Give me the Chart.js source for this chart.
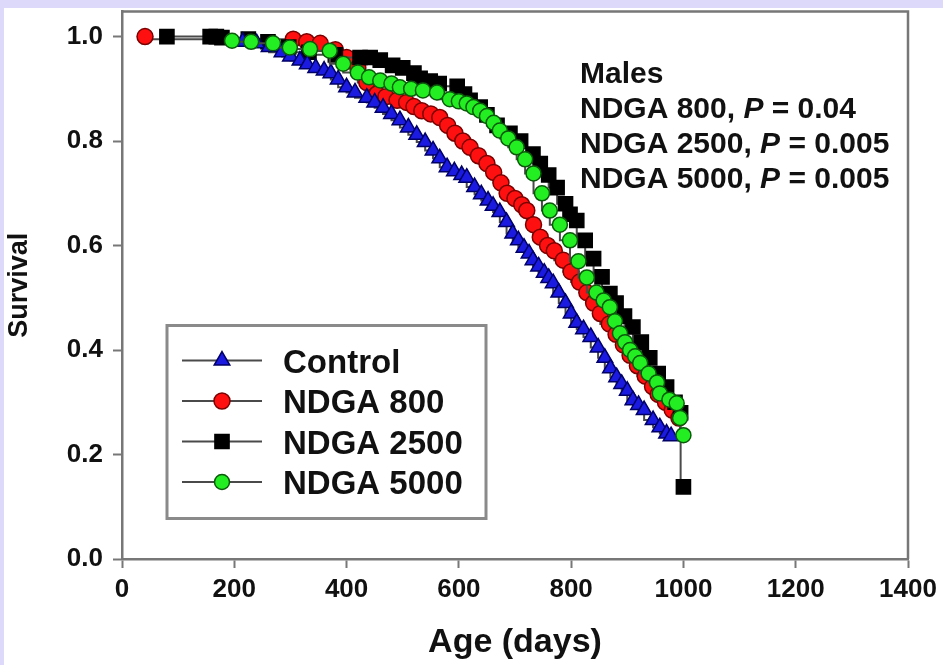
<!DOCTYPE html>
<html>
<head>
<meta charset="utf-8">
<title>Survival – Males</title>
<script src="https://cdn.jsdelivr.net/npm/chart.js@4.4.1/dist/chart.umd.min.js"></script>
<style>
  html, body { margin: 0; padding: 0; }
  body { width: 943px; height: 665px; background: #dcd9fb; position: relative; overflow: hidden; }
  #panel { position: absolute; left: 4px; top: 8px; right: 0; bottom: 0; background: #ffffff; }
  #survivalChart { position: absolute; left: 0; top: 0; }
</style>
</head>
<body>
<div id="panel"></div>
<canvas id="survivalChart" width="943" height="665"></canvas>
<script>
// Kaplan-Meier survival, males (age in days)
const seriesNames = ["Control", "NDGA 800", "NDGA 2500", "NDGA 5000"];

const controlDays = [215, 240, 262, 285, 300, 317, 330, 345, 360, 372, 385, 400, 415, 436, 450, 465, 480, 495, 510, 525, 540, 554, 566, 579, 592, 605, 614, 628, 640, 652, 661, 673, 685, 696, 706, 716, 725, 732, 742, 752, 760, 768, 778, 790, 800, 810, 822, 835, 848, 860, 870, 881, 890, 900, 910, 920, 930, 946, 958, 970, 978];
const controlSurv = [0.99, 0.987, 0.98, 0.97, 0.962, 0.954, 0.947, 0.94, 0.935, 0.93, 0.918, 0.903, 0.893, 0.883, 0.874, 0.864, 0.852, 0.84, 0.826, 0.812, 0.798, 0.782, 0.767, 0.75, 0.742, 0.735, 0.73, 0.712, 0.698, 0.686, 0.676, 0.664, 0.645, 0.623, 0.61, 0.596, 0.585, 0.572, 0.56, 0.548, 0.538, 0.528, 0.51, 0.49, 0.47, 0.452, 0.44, 0.425, 0.405, 0.385, 0.365, 0.348, 0.335, 0.322, 0.304, 0.295, 0.285, 0.266, 0.252, 0.24, 0.235];

const ndga800Days = [41, 305, 329, 353, 380, 400, 420, 436, 454, 470, 490, 507, 520, 534, 550, 566, 580, 593, 607, 620, 635, 650, 662, 675, 686, 700, 712, 721, 733, 745, 758, 770, 786, 800, 815, 828, 840, 852, 868, 880, 893, 905, 918, 932, 945, 955, 968, 980, 992];
const ndga800Surv = [1.0, 0.995, 0.99, 0.987, 0.975, 0.96, 0.94, 0.912, 0.89, 0.885, 0.878, 0.874, 0.866, 0.858, 0.852, 0.845, 0.83, 0.815, 0.8, 0.788, 0.772, 0.757, 0.74, 0.72, 0.7, 0.69, 0.678, 0.667, 0.64, 0.616, 0.6, 0.59, 0.572, 0.55, 0.53, 0.51, 0.49, 0.47, 0.45, 0.43, 0.41, 0.39, 0.37, 0.35, 0.33, 0.315, 0.3, 0.285, 0.27];

const ndga2500Days = [80, 157, 168, 178, 225, 260, 297, 333, 380, 424, 442, 460, 482, 500, 520, 531, 549, 565, 597, 610, 620, 638, 650, 668, 691, 710, 732, 745, 760, 775, 790, 798, 810, 825, 840, 855, 869, 880, 895, 910, 925, 940, 955, 970, 985, 995, 1000];
const ndga2500Surv = [1.0, 1.0, 1.0, 0.998, 0.995, 0.99, 0.98, 0.97, 0.965, 0.96, 0.96, 0.955, 0.945, 0.94, 0.93, 0.92, 0.915, 0.91, 0.905, 0.89, 0.878, 0.865, 0.85, 0.83, 0.815, 0.8, 0.775, 0.757, 0.735, 0.711, 0.68, 0.66, 0.648, 0.61, 0.575, 0.54, 0.508, 0.49, 0.465, 0.444, 0.415, 0.385, 0.355, 0.329, 0.3, 0.28, 0.138];

const ndga5000Days = [196, 230, 269, 299, 335, 370, 394, 420, 440, 460, 480, 495, 515, 536, 561, 584, 600, 614, 626, 638, 650, 662, 673, 688, 703, 718, 733, 748, 762, 780, 798, 813, 828, 845, 858, 869, 878, 887, 896, 905, 914, 923, 938, 953, 958, 975, 988, 994, 1000];
const ndga5000Surv = [0.992, 0.99, 0.987, 0.979, 0.976, 0.973, 0.948, 0.931, 0.922, 0.916, 0.91, 0.903, 0.9, 0.897, 0.893, 0.88, 0.876, 0.872, 0.865, 0.858, 0.848, 0.835, 0.82, 0.805, 0.788, 0.765, 0.738, 0.7, 0.667, 0.64, 0.61, 0.57, 0.539, 0.51, 0.495, 0.482, 0.455, 0.432, 0.415, 0.4, 0.388, 0.375, 0.355, 0.338, 0.317, 0.305, 0.298, 0.27, 0.237];

const xTicks = [0, 200, 400, 600, 800, 1000, 1200, 1400];
const yTicks = [0, 0.2, 0.4, 0.6, 0.8, 1.0];

// log-rank results against control
const pDoses = ["NDGA 800", "NDGA 2500", "NDGA 5000"];
const pValues = ["0.04", "0.005", "0.005"];

const FONT = "'Liberation Sans', Arial, sans-serif";
const AXIS_GRAY = "#777777";

function toPoints(days, surv) {
  return days.map((d, i) => ({ x: d, y: surv[i] }));
}

const seriesStyle = [
  { data: toPoints(controlDays, controlSurv), pointStyle: "triangle", pointRadius: 9, fill: "#1a1ae0", edge: "#000066", order: 1 },
  { data: toPoints(ndga800Days, ndga800Surv), pointStyle: "circle", pointRadius: 8, fill: "#ff1010", edge: "#7a0000", order: 3 },
  { data: toPoints(ndga2500Days, ndga2500Surv), pointStyle: "rect", pointRadius: 10, fill: "#000000", edge: "#000000", order: 2 },
  { data: toPoints(ndga5000Days, ndga5000Surv), pointStyle: "circle", pointRadius: 7.5, fill: "#22ee22", edge: "#0a5a0a", order: 0 }
];

const datasets = seriesStyle.map((s, i) => ({
  label: seriesNames[i],
  data: s.data,
  order: s.order,
  stepped: "after",
  borderColor: "#4a4a4a",
  borderWidth: 2,
  pointStyle: s.pointStyle,
  pointRadius: s.pointRadius,
  pointBackgroundColor: s.fill,
  pointBorderColor: s.edge,
  pointBorderWidth: 1.5,
  fill: false
}));

// keep the plot box fixed: no extra room for overhanging tick labels
function noOverhang(scale) {
  scale.paddingTop = 0;
  scale.paddingBottom = 0;
  scale.paddingLeft = 0;
  scale.paddingRight = 0;
}

// box legend drawn inside the plot
const legendBox = {
  id: "legendBox",
  afterDatasetsDraw(chart) {
    const { ctx, chartArea } = chart;
    const left = chartArea.left + 45, top = chartArea.top + 314;
    ctx.save();
    ctx.fillStyle = "#ffffff";
    ctx.fillRect(left, top, 319, 193);
    ctx.strokeStyle = "#8a8a8a";
    ctx.lineWidth = 3;
    ctx.strokeRect(left, top, 319, 193);
    seriesNames.forEach((name, i) => {
      const s = seriesStyle[i];
      const y = top + 35 + i * 40.5;
      ctx.strokeStyle = "#4a4a4a";
      ctx.lineWidth = 2;
      ctx.beginPath();
      ctx.moveTo(left + 15, y);
      ctx.lineTo(left + 95, y);
      ctx.stroke();
      ctx.fillStyle = s.fill;
      ctx.strokeStyle = s.edge;
      ctx.lineWidth = 1.5;
      Chart.helpers.drawPoint(ctx, { pointStyle: s.pointStyle, radius: s.pointRadius, rotation: 0, borderWidth: 1.5 }, left + 55, y);
      ctx.fillStyle = "#111111";
      ctx.font = "bold 33px " + FONT;
      ctx.textBaseline = "alphabetic";
      ctx.textAlign = "left";
      ctx.fillText(name, left + 116, y + 12);
    });
    ctx.restore();
  }
};

// "Males" block with P values, and the top/right frame lines
const notesAndFrame = {
  id: "notesAndFrame",
  afterDraw(chart) {
    const { ctx, chartArea } = chart;
    ctx.save();
    ctx.strokeStyle = AXIS_GRAY;
    ctx.lineWidth = 2.5;
    ctx.beginPath();
    ctx.moveTo(chartArea.left, chartArea.top);
    ctx.lineTo(chartArea.right, chartArea.top);
    ctx.lineTo(chartArea.right, chartArea.bottom);
    ctx.stroke();

    const x0 = 580;
    let y = 83;
    ctx.fillStyle = "#111111";
    ctx.textBaseline = "alphabetic";
    ctx.textAlign = "left";
    ctx.font = "bold 30px " + FONT;
    ctx.fillText("Males", x0, y);
    pDoses.forEach((dose, i) => {
      y += 35;
      let x = x0;
      const parts = [[dose + ", ", "bold"], ["P", "italic bold"], [" = " + pValues[i], "bold"]];
      parts.forEach(([txt, style]) => {
        ctx.font = style + " 30px " + FONT;
        ctx.fillText(txt, x, y);
        x += ctx.measureText(txt).width;
      });
    });
    ctx.restore();
  }
};

const ctx = document.getElementById("survivalChart").getContext("2d");
const chart = new Chart(ctx, {
  type: "line",
  data: { datasets },
  plugins: [legendBox, notesAndFrame],
  options: {
    responsive: false,
    animation: false,
    layout: { padding: { left: 0, top: 11, right: 35, bottom: 0 } },
    plugins: { legend: { display: false }, tooltip: { enabled: false } },
    scales: {
      x: {
        type: "linear",
        min: 0,
        max: 1400,
        afterBuildTicks: (scale) => { scale.ticks = xTicks.map(v => ({ value: v })); },
        afterFit: (scale) => { scale.height = 106; noOverhang(scale); },
        grid: { drawOnChartArea: false, drawTicks: true, tickLength: 9, tickWidth: 2, tickColor: AXIS_GRAY },
        border: { color: AXIS_GRAY, width: 2.5 },
        ticks: { color: "#111111", font: { family: FONT, size: 26, weight: "bold" }, padding: 6, maxRotation: 0, callback: (v) => String(v) },
        title: { display: true, text: "Age (days)", color: "#111111", font: { family: FONT, size: 34, weight: "bold" }, padding: { top: 0, bottom: 2 } }
      },
      y: {
        min: 0,
        max: 1.048,
        afterBuildTicks: (scale) => { scale.ticks = yTicks.map(v => ({ value: v })); },
        afterFit: (scale) => { scale.width = 122; noOverhang(scale); },
        grid: { drawOnChartArea: false, drawTicks: true, tickLength: 9, tickWidth: 2, tickColor: AXIS_GRAY },
        border: { color: AXIS_GRAY, width: 2.5 },
        ticks: { color: "#111111", font: { family: FONT, size: 26, weight: "bold" }, padding: 10, callback: (v) => v.toFixed(1) },
        title: { display: true, text: "Survival", color: "#111111", font: { family: FONT, size: 27, weight: "bold" }, padding: { top: 3, bottom: 0 } }
      }
    }
  }
});
</script>
</body>
</html>
